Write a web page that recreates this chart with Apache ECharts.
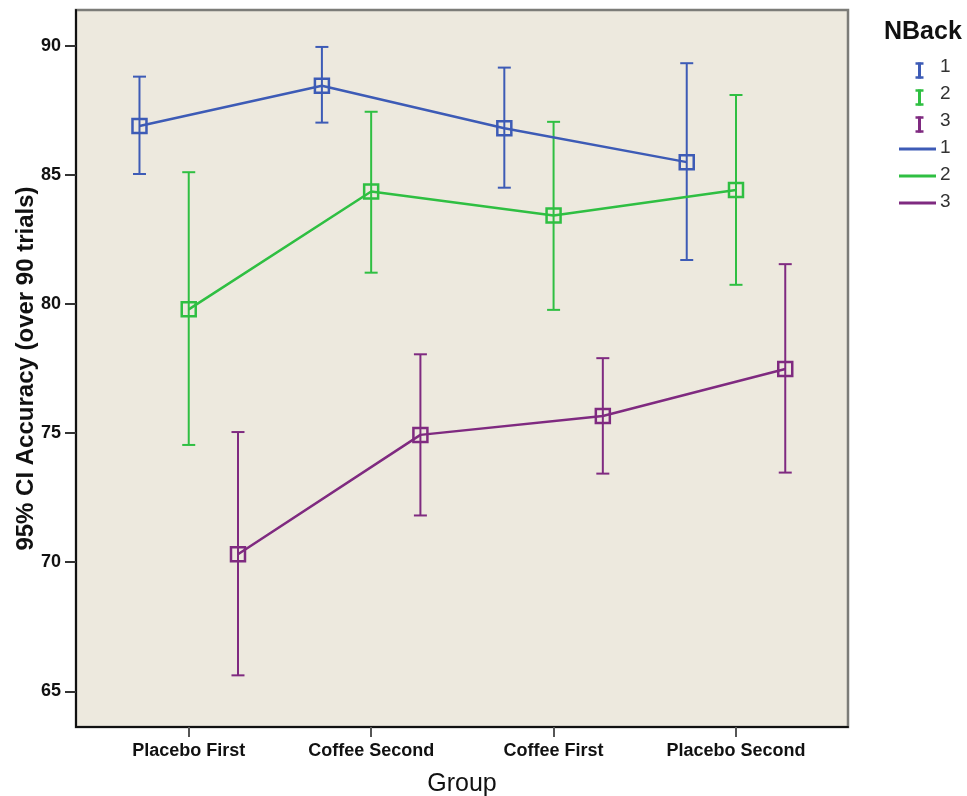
<!DOCTYPE html>
<html>
<head>
<meta charset="utf-8">
<script src="https://cdn.jsdelivr.net/npm/echarts@6/dist/echarts.min.js"></script>
<style>
  html, body { margin: 0; padding: 0; background: #ffffff; }
  #chart { width: 967px; height: 796px; }
</style>
</head>
<body>
<div id="chart"></div>
<script>
// Groups along the x axis
const groups = ['Placebo First', 'Coffee Second', 'Coffee First', 'Placebo Second'];
const nbackLevels = ['1', '2', '3'];

// Mean accuracy (over 90 trials) per NBack level, in group order
const mean1 = [86.89, 88.45, 86.80, 85.49];
const mean2 = [79.79, 84.35, 83.42, 84.41];
const mean3 = [70.31, 74.93, 75.66, 77.48];

// 95% CI lower / upper bounds
const low1 = [85.03, 87.02, 84.50, 81.70];
const high1 = [88.80, 89.95, 89.15, 89.32];
const low2 = [74.54, 81.21, 79.77, 80.74];
const high2 = [85.10, 87.44, 87.05, 88.09];
const low3 = [65.62, 71.81, 73.43, 73.47];
const high3 = [75.04, 78.05, 77.90, 81.54];

// Y axis tick values
const yTicks = [65, 70, 75, 80, 85, 90];

const colors = ['#3d5bb6', '#2fbf42', '#7f2a80'];
const means = [mean1, mean2, mean3];
const lows = [low1, low2, low3];
const highs = [high1, high2, high3];
// horizontal dodge of each NBack level within a group (category units)
const dodge = [-0.27, 0, 0.27];

const FONT = '"Liberation Sans", Arial, sans-serif';

const series = [];
nbackLevels.forEach(function (lvl, k) {
  const pts = groups.map(function (g, i) { return [i + dodge[k], means[k][i]]; });
  const bars = groups.map(function (g, i) { return [i + dodge[k], lows[k][i], highs[k][i]]; });
  series.push({
    name: 'CI ' + lvl,
    type: 'custom',
    z: 2,
    silent: true,
    data: bars,
    encode: { x: 0, y: [1, 2] },
    renderItem: function (params, api) {
      const x = api.value(0);
      const lo = api.coord([x, api.value(1)]);
      const hi = api.coord([x, api.value(2)]);
      const cap = 6.5;
      const style = { stroke: colors[k], lineWidth: 2, fill: null };
      return {
        type: 'group',
        children: [
          { type: 'line', shape: { x1: lo[0], y1: lo[1], x2: hi[0], y2: hi[1] }, style: style },
          { type: 'line', shape: { x1: lo[0] - cap, y1: lo[1], x2: lo[0] + cap, y2: lo[1] }, style: style },
          { type: 'line', shape: { x1: hi[0] - cap, y1: hi[1], x2: hi[0] + cap, y2: hi[1] }, style: style }
        ]
      };
    }
  });
  series.push({
    name: lvl,
    type: 'line',
    z: 3,
    data: pts,
    symbol: 'rect',
    symbolSize: 14,
    showAllSymbol: true,
    lineStyle: { color: colors[k], width: 2.5 },
    itemStyle: { color: 'rgba(0,0,0,0)', borderColor: colors[k], borderWidth: 2.5 },
    emphasis: { disabled: true },
    animation: false
  });
});

// Legend drawn as graphics: error-bar glyphs then line swatches
const legendItems = [];
legendItems.push({
  type: 'text', left: 884, top: 20,
  style: { text: 'NBack', font: 'bold 25px ' + FONT, fill: '#111' }
});
nbackLevels.forEach(function (lvl, k) {
  const cy = 68 + k * 27;
  const c = colors[k];
  legendItems.push({
    type: 'group', left: 913, top: cy - 8,
    children: [
      { type: 'line', shape: { x1: 5, y1: 0, x2: 5, y2: 16 }, style: { stroke: c, lineWidth: 3 } },
      { type: 'line', shape: { x1: 1, y1: 1, x2: 9, y2: 1 }, style: { stroke: c, lineWidth: 2.5 } },
      { type: 'line', shape: { x1: 1, y1: 15, x2: 9, y2: 15 }, style: { stroke: c, lineWidth: 2.5 } }
    ]
  });
  legendItems.push({
    type: 'text', left: 940, top: cy - 11,
    style: { text: lvl, font: '19px ' + FONT, fill: '#333' }
  });
});
nbackLevels.forEach(function (lvl, k) {
  const cy = 149 + k * 27;
  const c = colors[k];
  legendItems.push({
    type: 'line', shape: { x1: 899, y1: cy, x2: 936, y2: cy },
    style: { stroke: c, lineWidth: 3 }
  });
  legendItems.push({
    type: 'text', left: 940, top: cy - 11,
    style: { text: lvl, font: '19px ' + FONT, fill: '#333' }
  });
});

const chart = echarts.init(document.getElementById('chart'), null, { renderer: 'canvas' });
chart.setOption({
  animation: false,
  backgroundColor: '#ffffff',
  grid: {
    left: 76, top: 10, width: 772, height: 717,
    show: true,
    backgroundColor: '#ede9de',
    borderColor: '#7c7c78',
    borderWidth: 2.5,
    containLabel: false,
    outerBoundsMode: 'none'
  },
  xAxis: {
    type: 'value',
    min: -0.618,
    max: 3.614,
    name: 'Group',
    nameLocation: 'middle',
    nameGap: 45,
    nameMoveOverlap: false,
    nameTextStyle: { fontFamily: FONT, fontSize: 25, color: '#111' },
    splitLine: { show: false },
    axisLine: { show: true, onZero: false, lineStyle: { color: '#111', width: 2 } },
    axisTick: {
      show: true, inside: false, length: 10,
      customValues: [0, 1, 2, 3],
      lineStyle: { color: '#555', width: 2 }
    },
    axisLabel: {
      customValues: [0, 1, 2, 3],
      formatter: function (v) { return groups[Math.round(v)]; },
      fontFamily: FONT, fontWeight: 'bold', fontSize: 18, color: '#111', margin: 15
    }
  },
  yAxis: {
    type: 'value',
    min: 63.62,
    max: 91.38,
    name: '95% CI Accuracy (over 90 trials)',
    nameLocation: 'middle',
    nameGap: 38,
    nameMoveOverlap: false,
    nameRotate: 90,
    nameTextStyle: { fontFamily: FONT, fontWeight: 'bold', fontSize: 24, color: '#111' },
    splitLine: { show: false },
    axisLine: { show: true, onZero: false, lineStyle: { color: '#111', width: 2 } },
    axisTick: {
      show: true, inside: false, length: 11,
      customValues: yTicks,
      lineStyle: { color: '#333', width: 2 }
    },
    axisLabel: {
      customValues: yTicks,
      fontFamily: FONT, fontWeight: 'bold', fontSize: 18, color: '#111', margin: 15
    }
  },
  graphic: legendItems,
  series: series
});
</script>
</body>
</html>
